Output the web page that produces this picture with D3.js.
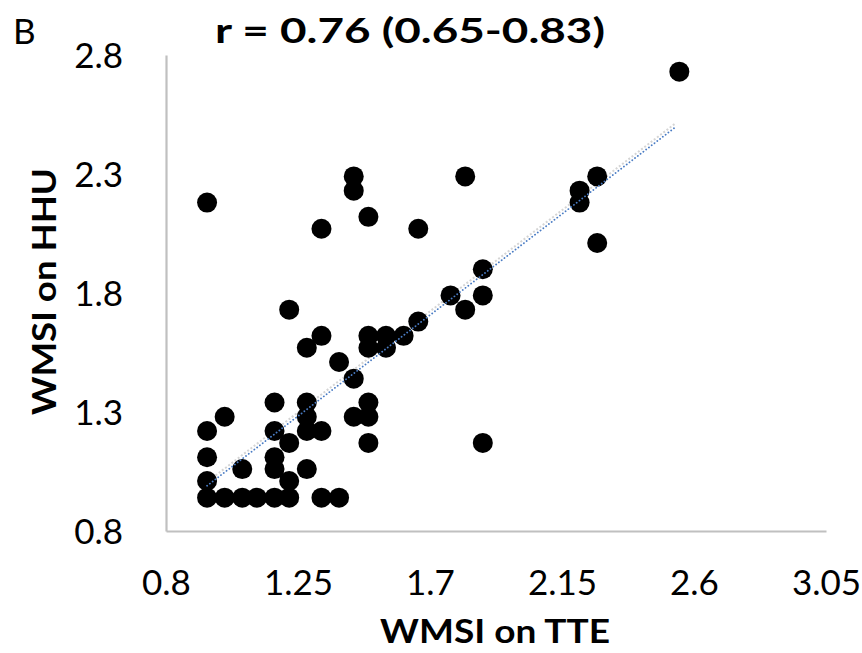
<!DOCTYPE html>
<html>
<head>
<meta charset="utf-8">
<script src="https://cdn.jsdelivr.net/npm/d3@7"></script>
<style>
  html, body { margin: 0; padding: 0; background: #ffffff; }
  svg { display: block; }
  text { font-family: Lato, "Liberation Sans", Arial, sans-serif; fill: #000; }
</style>
</head>
<body>
<svg id="chart" width="862" height="653"></svg>
<script>
// ---- data ----
const panelLabel = "B";
const titleText = "r = 0.76 (0.65-0.83)";
const xLabel = "WMSI on TTE";
const yLabel = "WMSI on HHU";
const xTicks = [0.8, 1.25, 1.7, 2.15, 2.6, 3.05];
const yTicks = [0.8, 1.3, 1.8, 2.3, 2.8];
const xTickLabels = ["0.8", "1.25", "1.7", "2.15", "2.6", "3.05"];
const yTickLabels = ["0.8", "1.3", "1.8", "2.3", "2.8"];

// WMSI on TTE (x) and WMSI on HHU (y) for each visible patient marker
const tte = [
  0.94, 1.00, 1.06, 1.11, 1.17, 1.22, 1.33, 1.39,
  0.94, 1.22,
  1.06, 1.17, 1.28,
  0.94, 1.17,
  1.22, 1.49, 1.88,
  0.94, 1.17, 1.28, 1.33,
  1.00, 1.28, 1.44, 1.49,
  1.17, 1.28, 1.49,
  1.44,
  1.39,
  1.28, 1.49, 1.55,
  1.33, 1.49, 1.55, 1.61,
  1.66,
  1.22, 1.82,
  1.77, 1.88,
  1.88,
  2.27,
  1.33, 1.66,
  1.49,
  0.94, 2.21,
  1.44, 2.21,
  1.44, 1.82, 2.27,
  2.55
];
const hhu = [
  0.94, 0.94, 0.94, 0.94, 0.94, 0.94, 0.94, 0.94,
  1.01, 1.01,
  1.06, 1.06, 1.06,
  1.11, 1.11,
  1.17, 1.17, 1.17,
  1.22, 1.22, 1.22, 1.22,
  1.28, 1.28, 1.28, 1.28,
  1.34, 1.34, 1.34,
  1.44,
  1.51,
  1.57, 1.57, 1.57,
  1.62, 1.62, 1.62, 1.62,
  1.68,
  1.73, 1.73,
  1.79, 1.79,
  1.90,
  2.01,
  2.07, 2.07,
  2.12,
  2.18, 2.18,
  2.23, 2.23,
  2.29, 2.29, 2.29,
  2.73
];

// linear trendline endpoints as drawn in the reference (fit on full data set)
const trendX = [0.94, 2.54];
const trendY = [0.99, 2.50];

// ---- chart ----
const svg = d3.select("#chart");
const x = d3.scaleLinear().domain([0.8, 3.05]).range([166, 826]);
const y = d3.scaleLinear().domain([0.8, 2.8]).range([531, 55]);

const points = tte.map((v, i) => ({x: v, y: hhu[i]}));
const trend = trendX.map((v, i) => ({x: v, y: trendY[i]}));

// axes
const xAxis = d3.axisBottom(x).tickValues(xTicks)
  .tickFormat((d, i) => xTickLabels[i]).tickSize(0).tickPadding(39);
const yAxis = d3.axisLeft(y).tickValues(yTicks)
  .tickFormat((d, i) => yTickLabels[i]).tickSize(0).tickPadding(43);

const gx = svg.append("g").attr("transform", `translate(0,${y(0.8)})`).call(xAxis);
const gy = svg.append("g").attr("transform", `translate(${x(0.8)},0)`).call(yAxis);
[gx, gy].forEach(g => {
  g.select(".domain").attr("stroke", "#c0c0c0").attr("stroke-width", 2.2);
  g.selectAll("text").attr("font-family", "Lato, 'Liberation Sans', Arial, sans-serif")
    .attr("font-size", 35).attr("fill", "#000");
});
gx.selectAll("text").attr("dy", "0.71em");
gy.selectAll("text").attr("dy", "0.36em");

const line = d3.line().x(d => x(d.x)).y(d => y(d.y));

// faint shadow of the trendline
svg.append("path").datum(trend).attr("d", line)
  .attr("transform", "translate(-1,-3)")
  .attr("fill", "none").attr("stroke", "#d4d4d4").attr("stroke-width", 2)
  .attr("stroke-dasharray", "2,2");

// points
svg.append("g").selectAll("circle").data(points).join("circle")
  .attr("cx", d => x(d.x)).attr("cy", d => y(d.y)).attr("r", 10)
  .attr("fill", "#000");

// trendline (drawn over the points, as in the reference)
svg.append("path").datum(trend).attr("d", line)
  .attr("fill", "none").attr("stroke", "#4a7cc4").attr("stroke-width", 1.8)
  .attr("stroke-linecap", "round")
  .attr("stroke-dasharray", "0.1,3.4");

// title and labels
svg.append("text").attr("x", 215).attr("y", 43).attr("font-size", 35)
  .attr("font-weight", "bold").attr("textLength", 390)
  .attr("lengthAdjust", "spacingAndGlyphs").text(titleText);
svg.append("text").attr("x", 13).attr("y", 44).attr("font-size", 35)
  .text(panelLabel);
svg.append("text").attr("x", 380).attr("y", 643).attr("font-size", 32)
  .attr("font-weight", "bold").attr("textLength", 230)
  .attr("lengthAdjust", "spacingAndGlyphs").text(xLabel);
svg.append("text").attr("transform", "translate(56,415) rotate(-90)")
  .attr("font-size", 32).attr("font-weight", "bold").attr("textLength", 247)
  .attr("lengthAdjust", "spacingAndGlyphs").text(yLabel);
</script>
</body>
</html>
